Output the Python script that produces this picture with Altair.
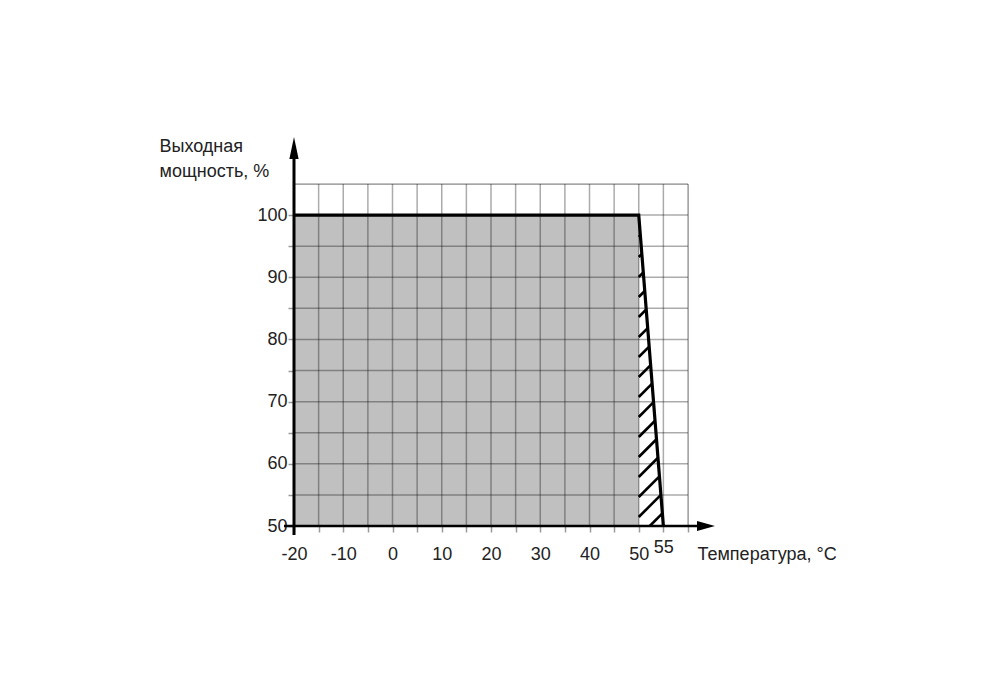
import altair as alt
import pandas as pd

# ---- data ----
temp = [-20, 50, 55]          # derating curve, °C
power = [100, 100, 50]        # output power, %
x_grid = list(range(-20, 65, 5))
y_grid = list(range(50, 110, 5))
x_labels = [-20, -10, 0, 10, 20, 30, 40, 50, 55]
y_labels = [50, 60, 70, 80, 90, 100]

X_DOMAIN = [-20, 60]
Y_DOMAIN = [50, 105]
W, H = 394, 342

FONT = "Liberation Sans"
TXT = "#222222"
GRID = "#000000"

ax = W / (X_DOMAIN[1] - X_DOMAIN[0])   # px per °C
by = H / (Y_DOMAIN[1] - Y_DOMAIN[0])   # px per %

x_scale = alt.Scale(domain=X_DOMAIN, nice=False, zero=False)
y_scale = alt.Scale(domain=Y_DOMAIN, nice=False, zero=False)

x_lab_list = ",".join(str(v) for v in x_labels)
y_lab_list = ",".join(str(v) for v in y_labels)

x_axis = alt.Axis(
    values=x_grid,
    labelExpr=f"indexof([{x_lab_list}], datum.value) >= 0 ? '' + datum.value : ''",
    title="Температура, °C",
    grid=False, domain=False,
    ticks=True, tickSize=6, tickColor="#9a9a9a", tickWidth=1.5,
    labelFont=FONT, labelFontSize=18, labelColor=TXT,
    labelBaseline="top", labelAlign="center",
    labelPadding={"condition": {"test": "datum.value === 55", "value": 6}, "value": 13},
    labelOverlap=False, labelFlush=False, labelBound=False,
    titleFont=FONT, titleFontSize=18, titleColor=TXT, titleFontWeight="normal",
    titleX=403, titleY=33.5, titleAlign="left", titleBaseline="alphabetic", titleAngle=0,
)

y_axis = alt.Axis(
    values=y_grid[:-1],
    labelExpr=f"indexof([{y_lab_list}], datum.value) >= 0 ? '' + datum.value : ''",
    title=["Выходная", "мощность, %"],
    grid=False, domain=False,
    ticks=True, tickSize=6, tickColor="#9a9a9a", tickWidth=1.5,
    labelFont=FONT, labelFontSize=18, labelColor=TXT,
    labelBaseline="middle", labelAlign="right", labelPadding=1,
    labelOverlap=False, labelFlush=False, labelBound=False,
    titleFont=FONT, titleFontSize=18, titleColor=TXT, titleFontWeight="normal",
    titleX=-135, titleY=-32.5, titleAlign="left", titleBaseline="alphabetic",
    titleAngle=0, titleLineHeight=25,
)


def X(f):
    return alt.X(f"{f}:Q", scale=x_scale, axis=x_axis)


def Y(f):
    return alt.Y(f"{f}:Q", scale=y_scale, axis=y_axis)


# gray full-power region
gray_df = pd.DataFrame({"x0": [temp[0]], "x1": [temp[1]], "y0": [power[2]], "y1": [power[1]]})
gray = alt.Chart(gray_df).mark_rect(color="#c0c0c0").encode(
    x=X("x0"), x2="x1", y=Y("y0"), y2="y1")

# hatching of the derating triangle (45° in pixel space)
r = ax / by
m = (temp[2] - temp[1]) / (power[1] - power[2])
hatch_step = 20 / by
c = power[2] - 11 / by
rows = []
while c < power[1]:
    if c >= power[2]:
        hx1, hy1 = temp[1], c
    else:
        hy1 = power[2]
        hx1 = temp[1] + (power[2] - c) / r
    hy2 = (c + r * m * power[1]) / (1 + r * m)
    hx2 = temp[1] + m * (power[1] - hy2)
    rows.append({"x0": hx1, "y0": hy1, "x1": hx2, "y1": hy2})
    c += hatch_step
hatch_df = pd.DataFrame(rows)
hatch = alt.Chart(hatch_df).mark_rule(color="black", strokeWidth=2.6).encode(
    x=X("x0"), x2="x1", y=Y("y0"), y2="y1")

# grid
vgrid_df = pd.DataFrame({"x0": [v for v in x_grid if v != X_DOMAIN[0]]})
vgrid_df["y0"] = Y_DOMAIN[0]
vgrid_df["y1"] = Y_DOMAIN[1]
vgrid = alt.Chart(vgrid_df).mark_rule(color=GRID, opacity=0.33, strokeWidth=1.5).encode(
    x=X("x0"), y=Y("y0"), y2="y1")

hgrid_df = pd.DataFrame({"y0": [v for v in y_grid if v != Y_DOMAIN[0]]})
hgrid_df["x0"] = X_DOMAIN[0]
hgrid_df["x1"] = X_DOMAIN[1]
hgrid = alt.Chart(hgrid_df).mark_rule(color=GRID, opacity=0.33, strokeWidth=1.5).encode(
    y=Y("y0"), x=X("x0"), x2="x1")

# derating curve
curve_df = pd.DataFrame({"t": temp, "p": power, "o": range(len(temp))})
curve = alt.Chart(curve_df).mark_line(color="black", strokeWidth=3.2, strokeJoin="miter").encode(
    x=X("t"), y=Y("p"), order="o:O")

# axis lines with arrows
yline_df = pd.DataFrame({"x0": [X_DOMAIN[0]], "y0": [Y_DOMAIN[0] - 9 / by], "y1": [Y_DOMAIN[0] + 367 / by]})
yline = alt.Chart(yline_df).mark_rule(color="black", strokeWidth=3).encode(
    x=X("x0"), y=Y("y0"), y2="y1")
xline_df = pd.DataFrame({"y0": [Y_DOMAIN[0]], "x0": [X_DOMAIN[0] - 10 / ax], "x1": [X_DOMAIN[0] + 404 / ax]})
xline = alt.Chart(xline_df).mark_rule(color="black", strokeWidth=2.5).encode(
    y=Y("y0"), x=X("x0"), x2="x1")

yarrow_df = pd.DataFrame({"x0": [X_DOMAIN[0]], "y0": [Y_DOMAIN[0] + 378 / by]})
yarrow = alt.Chart(yarrow_df).mark_point(
    shape="M0,-1L0.42,1L-0.42,1Z", filled=True, size=484, color="black", opacity=1, strokeWidth=0
).encode(x=X("x0"), y=Y("y0"))
xarrow_df = pd.DataFrame({"x0": [X_DOMAIN[0] + 412 / ax], "y0": [Y_DOMAIN[0]]})
xarrow = alt.Chart(xarrow_df).mark_point(
    shape="M1,0L-1,-0.55L-1,0.55Z", filled=True, size=324, color="black", opacity=1, strokeWidth=0
).encode(x=X("x0"), y=Y("y0"))

chart = alt.layer(gray, hatch, vgrid, hgrid, curve, yline, xline, yarrow, xarrow).properties(
    width=W, height=H,
    autosize=alt.AutoSizeParams(type="none"),
    padding={"left": 286, "top": 176, "right": 290, "bottom": 160},
).configure_view(stroke=None).configure(background="white")

chart.save("out.html", embed_options={"renderer": "svg", "actions": False})
